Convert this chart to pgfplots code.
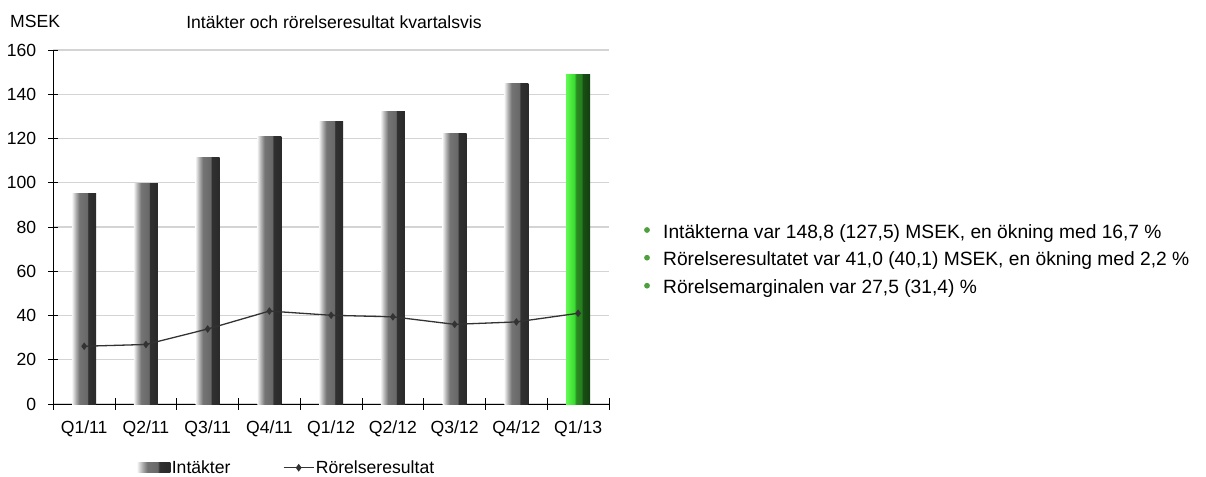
\documentclass[border=0pt]{standalone}
\usepackage{pgfplots}
\pgfplotsset{compat=1.18}
\usepackage{fontspec}
\setmainfont{Liberation Sans}
\definecolor{gA}{HTML}{F4F4F4}
\definecolor{gB}{HTML}{B0B0B0}
\definecolor{gC}{HTML}{747474}
\definecolor{gD}{HTML}{686868}
\definecolor{gE}{HTML}{303030}
\definecolor{gF}{HTML}{2A2A2A}
\definecolor{nA}{HTML}{62FA52}
\definecolor{nB}{HTML}{3ADC30}
\definecolor{nC}{HTML}{2A8C22}
\definecolor{nD}{HTML}{267C1E}
\definecolor{nE}{HTML}{174F13}
\definecolor{nF}{HTML}{123F10}
\definecolor{bulletgreen}{HTML}{4E9F3D}
\definecolor{linecol}{HTML}{333333}
\pgfdeclarehorizontalshading{graybar}{100bp}{color(0bp)=(gA); color(25bp)=(gA); color(32.5bp)=(gB); color(40bp)=(gC); color(56bp)=(gD); color(58.5bp)=(gE); color(75bp)=(gF); color(100bp)=(gF)}
\pgfdeclarehorizontalshading{greenbar}{100bp}{color(0bp)=(nA); color(25bp)=(nA); color(42bp)=(nB); color(46bp)=(nC); color(57bp)=(nD); color(60bp)=(nE); color(75bp)=(nF); color(100bp)=(nF)}
\pgfplotsset{
  barlegend/.style={legend image code/.code={\shade[shading=graybar] (0bp,-5bp) rectangle (33bp,5bp);}},
  linelegend/.style={legend image code/.code={\draw[##1] plot coordinates {(0bp,0bp) (15bp,0bp) (30bp,0bp)};}},
  gbar/.style={ybar, bar width=0.39, bar shift=0pt, draw=none, shade, shading=graybar},
}
\newcommand{\fs}{\fontsize{17.6bp}{21bp}\selectfont}
\newcommand{\fb}{\fontsize{19.2bp}{23bp}\selectfont}
\pgfplotstableread{
x y
0 26.1
1 26.9
2 33.9
3 42.0
4 40.1
5 39.4
6 36.0
7 37.1
8 41.0
}\rorelse
\begin{document}
\begin{tikzpicture}
\useasboundingbox (0bp,0bp) rectangle (1206bp,477bp);
\begin{axis}[
  at={(53.3bp,73bp)}, anchor=south west,
  scale only axis, width=555.7bp, height=354bp,
  xmin=-0.5, xmax=8.5, ymin=0, ymax=160,
  axis x line*=bottom, axis y line*=left,
  axis line style={black, line width=0.8bp},
  xtick={0,...,8},
  xticklabels={Q1/11,Q2/11,Q3/11,Q4/11,Q1/12,Q2/12,Q3/12,Q4/12,Q1/13},
  major x tick style={draw=none},
  minor xtick={-0.5,0.5,...,8.5},
  ytick={0,20,...,160},
  tick align=center, major tick length=10bp, minor tick length=11bp,
  tick style={black, line width=0.8bp},
  ymajorgrids, grid style={color=black!17, line width=1.2bp},
  /pgf/number format/assume math mode=true,
  tick label style={font=\fs},
  xticklabel style={yshift=-8bp},
  yticklabel style={xshift=-8.5bp},
  legend columns=2,
  legend cell align=left,
  legend style={at={(axis description cs:0.4197,-0.18)}, anchor=center, draw=none, font=\fs,
    inner sep=0pt, nodes={inner sep=1.5bp},
    /tikz/every even column/.append style={column sep=51bp}},
]
\addplot[gbar, barlegend] coordinates {(0,95.2)};
\addlegendentry{Intäkter}
\addplot[gbar, forget plot] coordinates {(1,99.8)};
\addplot[gbar, forget plot] coordinates {(2,111.5)};
\addplot[gbar, forget plot] coordinates {(3,121.0)};
\addplot[gbar, forget plot] coordinates {(4,127.5)};
\addplot[gbar, forget plot] coordinates {(5,132.1)};
\addplot[gbar, forget plot] coordinates {(6,122.3)};
\addplot[gbar, forget plot] coordinates {(7,144.9)};
\addplot[gbar, shading=greenbar, forget plot] coordinates {(8,148.8)};
\addplot[color=linecol, line width=1.3bp, mark=diamond*, mark size=2.8bp,
  mark options={fill=linecol, draw=linecol}, linelegend,
  legend image post style={mark repeat=2, mark phase=2}]
  table[x=x,y=y] {\rorelse};
\addlegendentry{Rörelseresultat}
\end{axis}
\node[anchor=base west, font=\fs, inner sep=0pt] at (10bp,449.7bp) {MSEK};
\node[anchor=base, font=\fs, inner sep=0pt] at (334bp,448.7bp) {Intäkter och rörelseresultat kvartalsvis};
\fill[bulletgreen] (647bp,247bp) circle (2.9bp);
\node[anchor=base west, font=\fb, inner sep=0pt] at (663bp,238.7bp) {Intäkterna var 148,8 (127,5) MSEK, en ökning med 16,7 \%};
\fill[bulletgreen] (647bp,219.3bp) circle (2.9bp);
\node[anchor=base west, font=\fb, inner sep=0pt] at (663bp,211.3bp) {Rörelseresultatet var 41,0 (40,1) MSEK, en ökning med 2,2 \%};
\fill[bulletgreen] (647bp,191.3bp) circle (2.9bp);
\node[anchor=base west, font=\fb, inner sep=0pt] at (663bp,183.7bp) {Rörelsemarginalen var 27,5 (31,4) \%};
\end{tikzpicture}
\end{document}
